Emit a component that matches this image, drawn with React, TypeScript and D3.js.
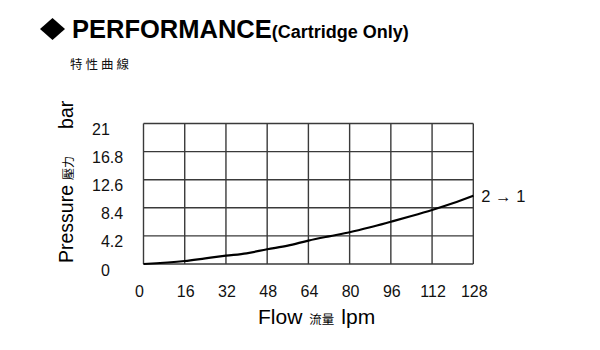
import React from "react";
import * as d3 from "d3";

const flowTicks = [0, 16, 32, 48, 64, 80, 96, 112, 128];
const pressureTicks = [0, 4.2, 8.4, 12.6, 16.8, 21];
const pressureTickLabels = ["0", "4.2", "8.4", "12.6", "16.8", "21"];

const curveFlow = [0, 16, 24, 32, 40, 48, 56, 64, 72, 80, 88, 96, 104, 112, 120, 128];
const curvePressure = [0, 0.45, 0.85, 1.24, 1.6, 2.2, 2.74, 3.5, 4.14, 4.74, 5.49, 6.32, 7.17, 8.07, 9.07, 10.2];

const seriesLabel = "2 → 1";

const SANS = "'Liberation Sans', Arial, Helvetica, sans-serif";
const CJK = "'Noto Sans CJK TC', 'Noto Sans CJK SC', sans-serif";

export default function App() {
  const x = d3.scaleLinear().domain([0, 128]).range([143.5, 473.3]);
  const y = d3.scaleLinear().domain([0, 21]).range([264, 123.5]);

  const pts: [number, number][] = curveFlow.map((f, i) => [f, curvePressure[i]]);
  const line = d3
    .line<[number, number]>()
    .x((d) => x(d[0]))
    .y((d) => y(d[1]))
    .curve(d3.curveMonotoneX);

  const last = pts[pts.length - 1];

  return (
    <svg
      width={600}
      height={350}
      viewBox="0 0 600 350"
      style={{ position: "absolute", left: 0, top: 0, background: "#fff" }}
    >
      <rect x={0} y={0} width={600} height={350} fill="#fff" />
      {/* Title */}
      <path d="M52.5,18 L65,29 L52.5,40 L40,29 Z" fill="#000" />
      <text x={72} y={38} fontFamily={SANS} fontWeight="bold" fill="#000">
        <tspan fontSize={25.5}>PERFORMANCE</tspan>
        <tspan fontSize={18}>(Cartridge Only)</tspan>
      </text>
      <text x={70} y={69} fontFamily={CJK} fontSize={12.5} letterSpacing={3} fill="#111">
        特性曲線
      </text>

      {/* Grid */}
      <g stroke="#3a3a3a" strokeWidth={1.4} fill="none">
        {pressureTicks.map((p) => (
          <line key={"h" + p} x1={x(0)} x2={x(128)} y1={y(p)} y2={y(p)} />
        ))}
        {flowTicks.map((f) => (
          <line key={"v" + f} x1={x(f)} x2={x(f)} y1={y(0)} y2={y(21)} />
        ))}
      </g>

      {/* Curve */}
      <path d={line(pts) || ""} fill="none" stroke="#000" strokeWidth={2.2} strokeLinejoin="round" />
      <text x={x(last[0]) + 8} y={y(last[1]) + 6} fontFamily={SANS} fontSize={16.5} fill="#111">
        {seriesLabel}
      </text>

      {/* X tick labels */}
      {flowTicks.map((f) => (
        <text
          key={"xt" + f}
          x={x(f) + (f === 0 ? -4 : 1)}
          y={297}
          textAnchor="middle"
          fontFamily={SANS}
          fontSize={16}
          fill="#111"
        >
          {String(f)}
        </text>
      ))}

      {/* Y tick labels */}
      {pressureTicks.map((p, i) => (
        <text
          key={"yt" + p}
          x={92}
          y={y(p) + 11.5}
          textAnchor="start"
          fontFamily={SANS}
          fontSize={16}
          fill="#111"
        >
          {(p < 10 ? "\u2007" : "") + pressureTickLabels[i]}
        </text>
      ))}

      {/* X title */}
      <text x={258} y={324} fontFamily={SANS} fill="#000">
        <tspan fontSize={21}>Flow</tspan>
        <tspan dx={7} fontSize={12.5} fontFamily={CJK}>流量</tspan>
        <tspan dx={7} fontSize={21}>lpm</tspan>
      </text>

      {/* Y title */}
      <text transform="translate(73,263) rotate(-90)" x={0} y={0} fontFamily={SANS} fill="#000">
        <tspan fontSize={19.5}>Pressure</tspan>
        <tspan dx={5} fontSize={12} fontFamily={CJK}>壓力</tspan>
        <tspan dx={27} fontSize={19.5}>bar</tspan>
      </text>
    </svg>
  );
}
